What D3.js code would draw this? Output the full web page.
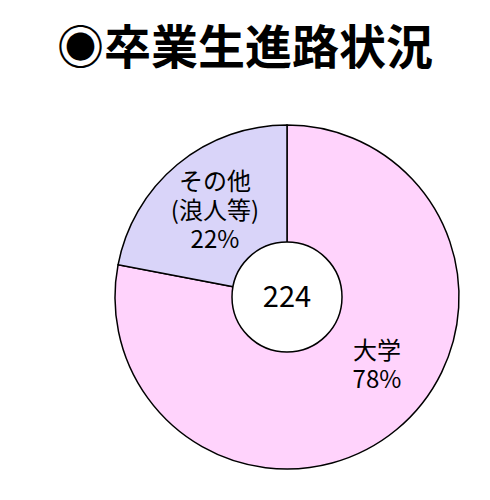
<!DOCTYPE html>
<html>
<head>
<meta charset="utf-8">
<script src="https://cdn.jsdelivr.net/npm/d3@7"></script>
<style>
  body { margin: 0; background: #fff; }
  svg text { font-family: "Noto Sans CJK JP", "Noto Sans", sans-serif; fill: #000; }
</style>
</head>
<body>
<svg id="chart"></svg>
<script>
// data
var categories = ["大学", "その他"];
var labelLines = [["大学"], ["その他", "(浪人等)"]];
var percents = [78, 22];
var totalCount = 224;
var titleText = "◉卒業生進路状況";

var colors = ["#ffd3fc", "#d9d4f9"];

var width = 490, height = 500;
var cx = 287, cy = 297;
var outerR = 172, innerR = 55, labelR = 113;

var svg = d3.select("#chart")
    .attr("width", width)
    .attr("height", height);

svg.append("text")
    .attr("x", 245)
    .attr("y", 64)
    .attr("text-anchor", "middle")
    .style("font-size", "47px")
    .style("font-weight", "bold")
    .text(titleText);

var pie = d3.pie().sort(null).value(function (d) { return d; });
var arcs = pie(percents);

var arc = d3.arc().innerRadius(0).outerRadius(outerR);
var labelArc = d3.arc().innerRadius(labelR).outerRadius(labelR);

var g = svg.append("g")
    .attr("transform", "translate(" + cx + "," + cy + ")");

g.selectAll("path.slice")
    .data(arcs)
    .enter()
    .append("path")
    .attr("class", "slice")
    .attr("d", arc)
    .attr("fill", function (d, i) { return colors[i]; })
    .attr("stroke", "#000")
    .attr("stroke-width", 1.5);

g.append("circle")
    .attr("r", innerR)
    .attr("fill", "#fff")
    .attr("stroke", "#000")
    .attr("stroke-width", 1.5);

g.append("text")
    .attr("text-anchor", "middle")
    .attr("dy", "0.36em")
    .style("font-size", "29px")
    .text(totalCount);

// excel-ish placement: big slice label pulled back toward lower right
var angleShift = [-0.23, 0];
var lineH = 29;

var labels = g.selectAll("text.lbl")
    .data(arcs)
    .enter()
    .append("text")
    .attr("class", "lbl")
    .attr("text-anchor", "middle")
    .style("font-size", "24px")
    .attr("transform", function (d, i) {
        var a = { startAngle: d.startAngle + angleShift[i], endAngle: d.endAngle + angleShift[i] };
        var c = labelArc.centroid(a);
        var n = labelLines[i].length + 1;
        return "translate(" + c[0] + "," + (c[1] - (n - 1) * lineH / 2) + ")";
    });

labels.each(function (d, i) {
    var t = d3.select(this);
    var lines = labelLines[i].concat([percents[i] + "%"]);
    lines.forEach(function (s, k) {
        t.append("tspan")
            .attr("x", 0)
            .attr("y", k * lineH)
            .attr("dy", "0.36em")
            .text(s);
    });
});
</script>
</body>
</html>
